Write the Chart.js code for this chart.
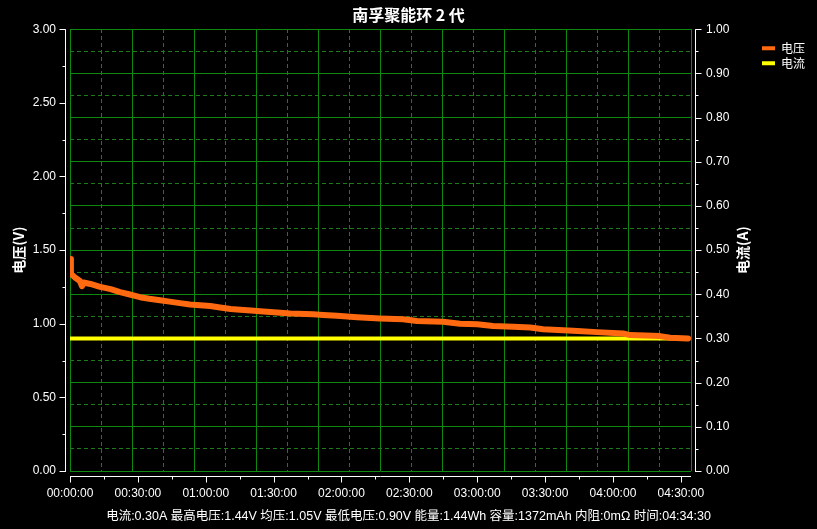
<!DOCTYPE html>
<html>
<head>
<meta charset="utf-8">
<title>南孚聚能环 2 代</title>
<script src="https://cdn.jsdelivr.net/npm/chart.js@4.4.1/dist/chart.umd.min.js"></script>
<style>
  html, body { margin: 0; padding: 0; background: #000; }
  #wrap { width: 817px; height: 529px; }
</style>
</head>
<body>
<div id="wrap"><canvas id="myChart"></canvas></div>
<script>
// elapsed time in minutes
var times = [0, 0.4, 2.5, 4.4, 5.3, 6.0, 9, 13.3, 18, 22.1, 26, 30.9, 35, 39.8, 44, 48.6, 53, 57.5, 62, 66.3,
  71, 75.2, 80, 84, 91.5, 97.3, 107.4, 112, 118, 126.9, 137, 147.2, 153.4, 164.9, 172.4, 180, 187, 196,
  203.4, 209.1, 222.4, 233, 244.5, 247.6, 260.8, 265.3, 273.2];
var voltage = [1.44, 1.34, 1.31, 1.29, 1.255, 1.28, 1.27, 1.25, 1.235, 1.215, 1.20, 1.18, 1.17, 1.16, 1.15, 1.14, 1.13, 1.125, 1.12, 1.11,
  1.10, 1.095, 1.09, 1.085, 1.077, 1.07, 1.065, 1.06, 1.054, 1.044, 1.036, 1.031, 1.019, 1.013, 1.00, 0.997, 0.985, 0.98,
  0.975, 0.962, 0.952, 0.943, 0.934, 0.923, 0.916, 0.905, 0.90];
var currentTimes = [0, 273.2];
var current = [0.30, 0.30];
var totalMinutes = 274.5;   // 04:34:30

var chartTitle = '南孚聚能环 2 代';
var footer = '电流:0.30A 最高电压:1.44V 均压:1.05V 最低电压:0.90V 能量:1.44Wh 容量:1372mAh 内阻:0mΩ 时间:04:34:30';

var latin = "'Liberation Sans', 'Noto Sans CJK SC', sans-serif";
var cjk = "'Noto Sans CJK SC', sans-serif";

function hms(min) {
  var s = Math.round(min * 60);
  var parts = [Math.floor(s / 3600), Math.floor(s % 3600 / 60), s % 60];
  return parts.map(function (v) { return (v < 10 ? '0' : '') + v; }).join(':');
}

function points(xs, ys) {
  return xs.map(function (x, i) { return { x: x, y: ys[i] }; });
}

// 10x10 green grid, dashed line half way between the solid ones
var gridLines = {
  color: function (c) { return c.index % 2 ? '#1d7a1d' : '#0d8a0d'; },
  lineWidth: 1,
  drawTicks: false
};
var gridBorder = {
  display: false,
  dash: function (c) { return c.index % 2 ? [4, 3] : []; }
};

// white axis lines sit a few pixels off the plot frame, with long and short ticks
var axisLines = {
  id: 'axisLines',
  afterDraw: function (chart) {
    var c = chart.ctx, a = chart.chartArea, s = chart.scales;
    var lx = Math.round(a.left) - 4.5, rx = Math.round(a.right) + 4.5, by = Math.round(a.bottom) + 5.5;
    var i, p;
    c.save();
    c.strokeStyle = '#fff';
    c.lineWidth = 1;
    c.beginPath();
    c.moveTo(lx, a.top); c.lineTo(lx, a.bottom + 1);
    c.moveTo(rx, a.top); c.lineTo(rx, a.bottom + 1);
    c.moveTo(a.left, by); c.lineTo(a.right, by);
    for (i = 0; i <= 12; i++) {
      p = Math.round(s.y.getPixelForValue(i * 0.25)) + 0.5;
      c.moveTo(lx - (i % 2 ? 3 : 6), p); c.lineTo(lx, p);
    }
    for (i = 0; i <= 20; i++) {
      p = Math.round(s.y1.getPixelForValue(i * 0.05)) + 0.5;
      c.moveTo(rx, p); c.lineTo(rx + (i % 2 ? 3 : 6), p);
    }
    for (i = 0; i * 15 <= totalMinutes; i++) {
      p = Math.round(s.x.getPixelForValue(i * 15)) + 0.5;
      c.moveTo(p, by); c.lineTo(p, by + (i % 2 ? 3 : 6));
    }
    c.stroke();
    // right axis title reads bottom to top like the left one
    c.fillStyle = '#fff';
    c.font = "bold 14px " + cjk;
    c.textAlign = 'center';
    c.textBaseline = 'middle';
    c.translate(rx + 47, (a.top + a.bottom) / 2);
    c.rotate(-Math.PI / 2);
    c.fillText('电流(A)', 0, 0);
    c.restore();
  }
};

var ctx = document.getElementById('myChart');

const myChart = new Chart(ctx, {
  type: 'line',
  data: {
    datasets: [
      {
        label: '电压',
        data: points(times, voltage),
        xAxisID: 'x',
        yAxisID: 'y',
        borderColor: '#ff6a10',
        backgroundColor: '#ff6a10',
        borderWidth: 6,
        borderCapStyle: 'round',
        borderJoinStyle: 'round',
        pointRadius: 0,
        tension: 0
      },
      {
        label: '电流',
        data: points(currentTimes, current),
        xAxisID: 'x',
        yAxisID: 'y1',
        borderColor: '#ffff00',
        backgroundColor: '#ffff00',
        borderWidth: 4,
        pointRadius: 0,
        tension: 0
      }
    ]
  },
  options: {
    responsive: true,
    maintainAspectRatio: false,
    animation: false,
    layout: { padding: { left: 10, right: 10, top: 0, bottom: 0 } },
    plugins: {
      title: {
        display: true,
        text: chartTitle,
        color: '#fff',
        font: { family: cjk, size: 16, weight: 'bold' },
        padding: { top: 5, bottom: 5 }
      },
      subtitle: {
        display: true,
        position: 'bottom',
        text: footer,
        color: '#fff',
        font: { family: latin, size: 12.5 },
        padding: { top: 2, bottom: 5 }
      },
      legend: {
        position: 'right',
        align: 'start',
        fullSize: false,
        maxWidth: 48,
        title: { display: true, text: '', font: { size: 10, lineHeight: 1 }, padding: 0 },
        labels: {
          color: '#fff',
          font: { family: cjk, size: 12 },
          boxWidth: 13,
          boxHeight: 4,
          padding: 3,
          generateLabels: function (chart) {
            var items = Chart.defaults.plugins.legend.labels.generateLabels(chart);
            items.forEach(function (it) { it.lineWidth = 0; });
            return items;
          }
        }
      },
      tooltip: { enabled: false }
    },
    scales: {
      x: {
        type: 'linear',
        position: 'bottom',
        min: 0,
        max: totalMinutes,
        afterFit: function (s) { s.height = 36; },
        grid: { display: false, drawTicks: false },
        border: { display: false },
        ticks: {
          stepSize: 30,
          includeBounds: false,
          autoSkip: false,
          maxRotation: 0,
          minRotation: 0,
          padding: 15,
          color: '#fff',
          font: { family: latin, size: 12 },
          callback: function (v) { return hms(v); }
        }
      },
      y: {
        type: 'linear',
        position: 'left',
        min: 0,
        max: 3,
        afterFit: function (s) { s.width = 60; },
        grid: { display: false, drawTicks: false },
        border: { display: false },
        ticks: {
          stepSize: 0.5,
          padding: 14,
          color: '#fff',
          font: { family: latin, size: 12 },
          callback: function (v) { return v.toFixed(2); }
        },
        title: {
          display: true,
          text: '电压(V)',
          color: '#fff',
          font: { family: cjk, size: 14, weight: 'bold' },
          padding: { top: 0, bottom: 0 }
        }
      },
      y1: {
        type: 'linear',
        position: 'right',
        min: 0,
        max: 1,
        afterFit: function (s) { s.width = 68; },
        grid: { display: false, drawTicks: false },
        border: { display: false },
        ticks: {
          stepSize: 0.1,
          padding: 15,
          color: '#fff',
          font: { family: latin, size: 12 },
          callback: function (v) { return v.toFixed(2); }
        }
      },
      xg: {
        type: 'linear',
        position: 'top',
        min: 0,
        max: 20,
        afterFit: function (s) { s.height = 0; },
        ticks: { display: false, stepSize: 1 },
        grid: gridLines,
        border: gridBorder
      },
      yg: {
        type: 'linear',
        position: 'right',
        min: 0,
        max: 20,
        afterFit: function (s) { s.width = 0; },
        ticks: { display: false, stepSize: 1 },
        grid: gridLines,
        border: gridBorder
      }
    }
  },
  plugins: [axisLines]
});
</script>
</body>
</html>
